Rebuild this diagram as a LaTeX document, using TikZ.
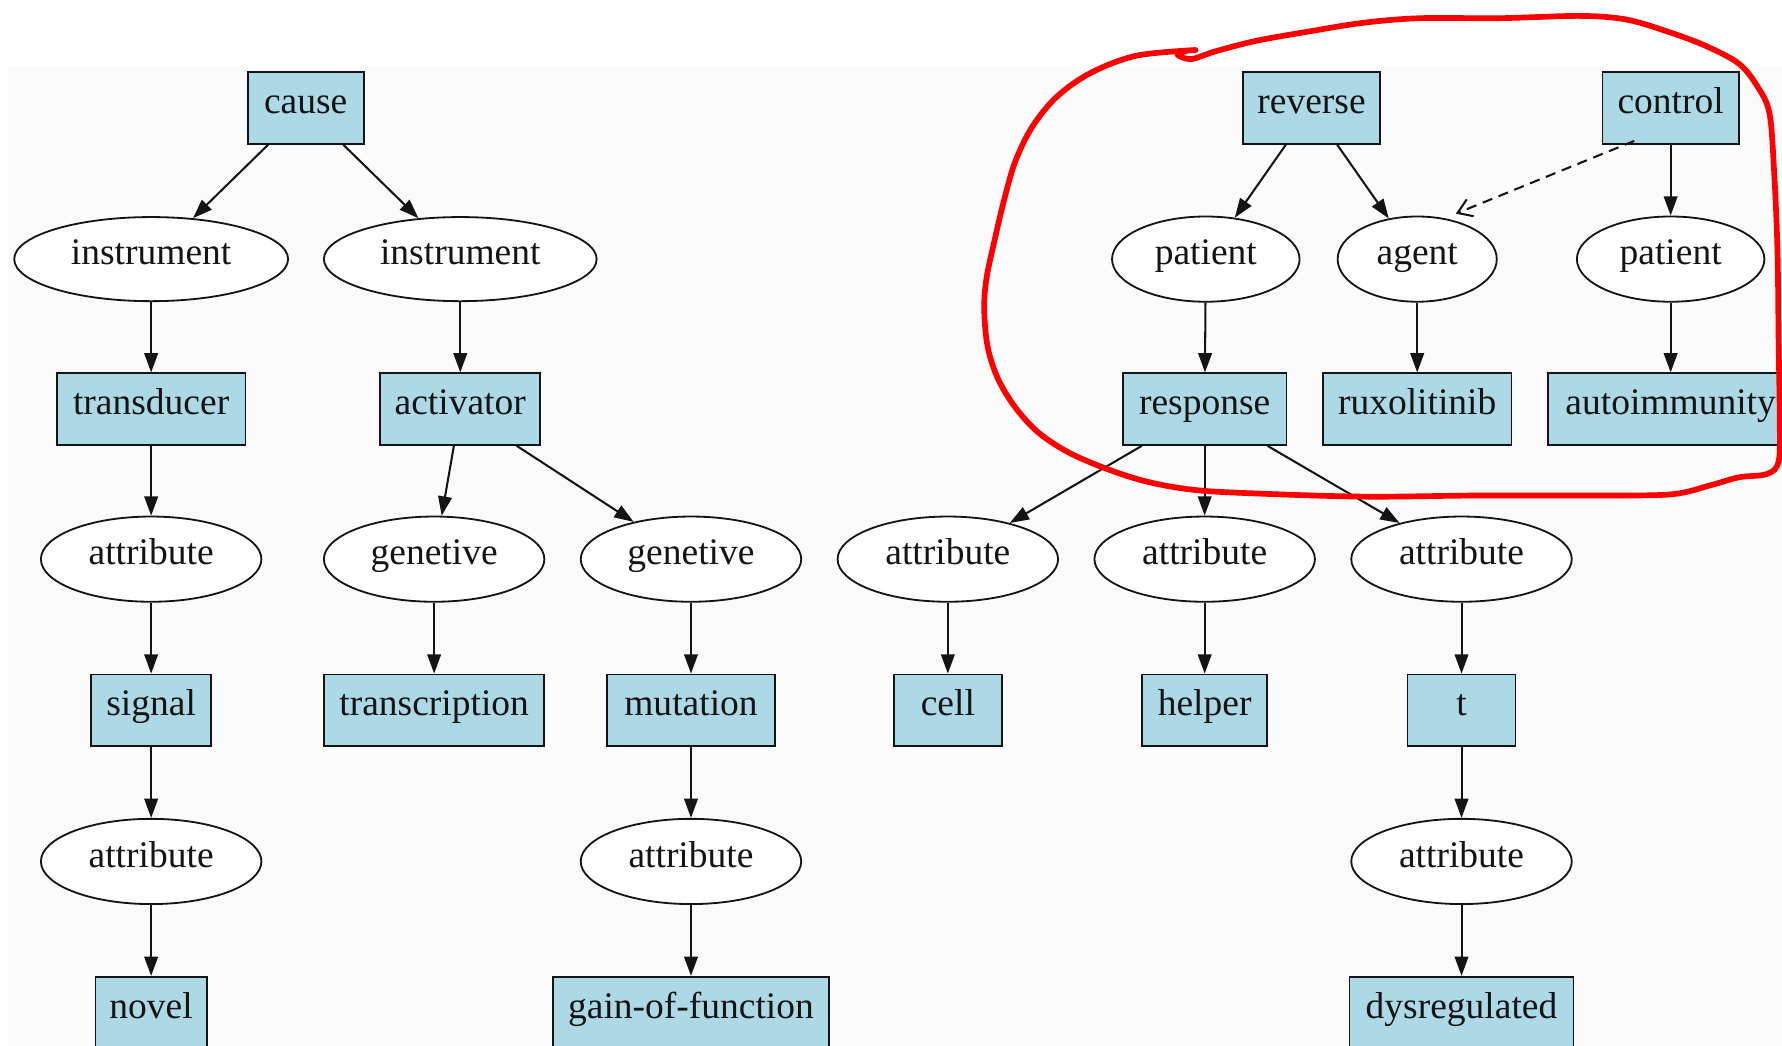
\documentclass[tikz,border=0pt]{standalone}
\usepackage{fontspec}
\setmainfont{Liberation Serif}
\usetikzlibrary{shapes.geometric,arrows.meta,calc}
\definecolor{lightblue}{HTML}{ADD8E6}
\definecolor{canvas}{RGB}{250,251,250}
\definecolor{ink}{RGB}{20,20,20}
\begin{document}
\begin{tikzpicture}[x=0.5pt,y=-0.5pt,
  every node/.style={font=\fontsize{16.5}{19}\selectfont, inner sep=0pt, text=ink,
    text height=9.5pt, text depth=4.5pt},
  word/.style={rectangle, draw=ink, line width=0.8pt, fill=lightblue, minimum height=31.5pt},
  role/.style={ellipse, draw=ink, line width=0.8pt, fill=white, minimum height=37.5pt},
  link/.style={draw=ink, line width=0.9pt, -{Triangle[length=8.5pt,width=6pt]}},
  xlink/.style={draw=ink, line width=0.9pt, dash pattern=on 4.5pt off 3pt,
    -{Straight Barb[length=6pt,width=8pt,line width=0.9pt]}},
  scribble/.style={draw=red, line width=2.5pt, line cap=round, line join=round}
]
\useasboundingbox (0,0) rectangle (1568,920);
\clip (0,0) rectangle (1568,920);
\fill[white] (0,0) rectangle (1568,920);
\fill[canvas] (7,58) rectangle (1568,920);

% row 1
\node[word, minimum width=51pt] (cause)   at (269,95)  {cause};
\node[word, minimum width=60pt] (reverse) at (1154,95) {reverse};
\node[word, minimum width=60pt] (control) at (1470,95) {control};
% row 2
\node[role, minimum width=120.5pt, minimum height=37pt] (inst1) at (133,228) {instrument};
\node[role, minimum width=120pt, minimum height=37pt] (inst2) at (405,228) {instrument};
\node[role, minimum width=82.5pt] (pat1)  at (1061,228) {patient};
\node[role, minimum width=70pt]   (agent) at (1247,228) {agent};
\node[role, minimum width=82.5pt] (pat2)  at (1470,228) {patient};
% row 3
\node[word, minimum width=83pt]   (transducer)   at (133,360)  {transducer};
\node[word, minimum width=70.5pt] (activator)    at (405,360)  {activator};
\node[word, minimum width=72pt]   (response)     at (1060,360) {response};
\node[word, minimum width=83pt]   (ruxolitinib)  at (1247,360) {ruxolitinib};
\node[word, minimum width=108pt]  (autoimmunity) at (1470,360) {autoimmunity};
% row 4
\node[role, minimum width=97pt] (attrA) at (133,492)  {attribute};
\node[role, minimum width=97pt] (gen1)  at (382,492)  {genetive};
\node[role, minimum width=97pt] (gen2)  at (608,492)  {genetive};
\node[role, minimum width=97pt] (attrC) at (834,492)  {attribute};
\node[role, minimum width=97pt] (attrH) at (1060,492) {attribute};
\node[role, minimum width=97pt] (attrT) at (1286,492) {attribute};
% row 5
\node[word, minimum width=53pt]   (signal)        at (133,625)  {signal};
\node[word, minimum width=97pt]   (transcription) at (382,625)  {transcription};
\node[word, minimum width=74pt]   (mutation)      at (608,625)  {mutation};
\node[word, minimum width=47.5pt] (cell)          at (834,625)  {cell};
\node[word, minimum width=55pt]   (helper)        at (1060,625) {helper};
\node[word, minimum width=47.5pt] (tcell)         at (1286,625) {t};
% row 6
\node[role, minimum width=97pt] (attrS) at (133,758)  {attribute};
\node[role, minimum width=97pt] (attrM) at (608,758)  {attribute};
\node[role, minimum width=97pt] (attrD) at (1286,758) {attribute};
% row 7
\node[word, minimum width=49pt]    (novel) at (133,891)  {novel};
\node[word, minimum width=121.5pt] (gof)   at (608,891)  {gain-of-function};
\node[word, minimum width=98.5pt]  (dysregulated) at (1286,891) {dysregulated};

% edges
\draw[link] (cause) -- (inst1);
\draw[link] (cause) -- (inst2);
\draw[link] (inst1) -- (transducer);
\draw[link] (inst2) -- (activator);
\draw[link] (transducer) -- (attrA);
\draw[link] (attrA) -- (signal);
\draw[link] (signal) -- (attrS);
\draw[link] (attrS) -- (novel);
\draw[link] (activator) -- (gen1);
\draw[link] (activator) -- (gen2);
\draw[link] (gen1) -- (transcription);
\draw[link] (gen2) -- (mutation);
\draw[link] (mutation) -- (attrM);
\draw[link] (attrM) -- (gof);
\draw[link] (reverse) -- (pat1);
\draw[link] (reverse) -- (agent);
\draw[link] (control) -- (pat2);
\draw[link] (pat1) -- (response);
\draw[link] (agent) -- (ruxolitinib);
\draw[link] (pat2) -- (autoimmunity);
\draw[link] (response) -- (attrC);
\draw[link] (response) -- (attrH);
\draw[link] (response) -- (attrT);
\draw[link] (attrC) -- (cell);
\draw[link] (attrH) -- (helper);
\draw[link] (attrT) -- (tcell);
\draw[link] (tcell) -- (attrD);
\draw[link] (attrD) -- (dysregulated);

% dashed cross link
\coordinate (ctlout) at ([shift={(-32,29)}]control.center);
\coordinate (agtin)  at ([shift={(34,-40)}]agent.center);
\draw[xlink] (ctlout) -- (agtin);

% hand-drawn red loop
\draw[scribble] plot[smooth, tension=0.55] coordinates {
  (1052,44) (1000,49) (960,64) (930,85) (908,112) (893,143) (883,178)
  (875,212) (868,245) (866,272) (869,305) (878,333) (893,358) (913,380)
  (940,398) (975,413) (1010,424) (1050,431) (1100,434) (1200,437)
  (1300,436) (1400,436) (1470,435) (1505,427) (1530,420) (1555,417)
  (1565,406) (1566,370) (1565,300) (1564,220) (1561,150) (1557,100)
  (1547,77) (1530,56) (1500,40) (1465,27) (1430,17) (1390,14) (1320,16)
  (1250,16) (1200,20) (1150,28) (1105,36) (1070,45) (1048,52) (1036,48) (1044,45)};
\end{tikzpicture}
\end{document}
